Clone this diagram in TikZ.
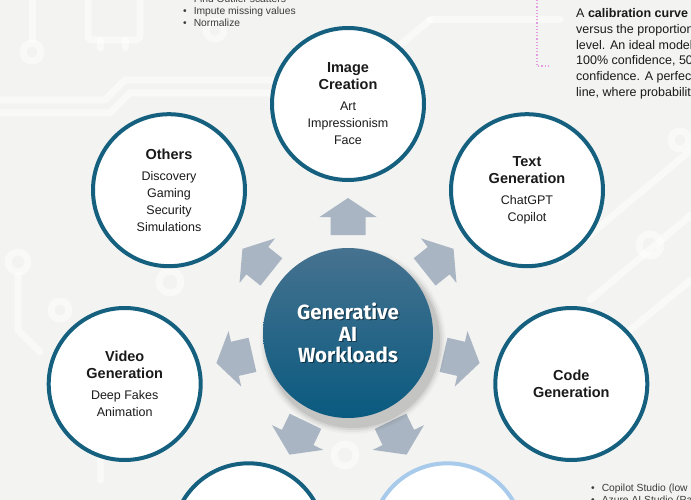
\documentclass[tikz,border=0pt]{standalone}
\usepackage{fontspec}
\setmainfont{Liberation Sans}
\newfontfamily\techfont{Fira Sans}
\definecolor{bgc}{HTML}{F3F3F2}
\definecolor{ringc}{HTML}{15607F}
\definecolor{lightring}{HTML}{A8CAEB}
\definecolor{arrowc}{HTML}{A9B5C2}
\definecolor{ctop}{HTML}{46728F}
\definecolor{cbot}{HTML}{0A5A80}
\definecolor{txtc}{HTML}{1A1A1A}
\definecolor{pinkc}{HTML}{E39CE0}
\newcommand{\ttlfont}{\bfseries\fontsize{14.5}{17}\selectfont}
\newcommand{\itmfont}{\mdseries\fontsize{12.5}{17}\selectfont}
\begin{document}
\begin{tikzpicture}[x=1pt,y=-1pt,
  sat/.style={circle, draw=ringc, line width=4pt, fill=white, minimum size=152pt,
    inner sep=0pt, align=center, text=txtc, font=\fontsize{12.5}{17}\selectfont},
  lightsat/.style={sat, draw=lightring},
  trace/.style={draw=white, line width=7pt, opacity=0.5, line cap=round, line join=round},
  blockarrow/.style={fill=arrowc, draw=none},
  smalltxt/.style={anchor=base west, inner sep=0pt, text=txtc!85, font=\fontsize{10.3}{11}\selectfont},
  bodytxt/.style={anchor=base west, inner sep=0pt, text=txtc, font=\fontsize{12.5}{15}\selectfont}
]
\useasboundingbox (0,0) rectangle (691,500);
\clip (0,0) rectangle (691,500);
\fill[bgc] (0,0) rectangle (691,500);

% faint circuit traces
\draw[trace] (32,0) -- (32,40);
\draw[trace] (32,52) circle (9);
\draw[trace, rounded corners=4] (88,-5) rectangle (140,40);
\draw[trace] (100,40) -- (100,48) (125,40) -- (125,48);
\draw[trace] (0,100) -- (105,100) -- (125,80) -- (330,80);
\draw[trace] (0,113) -- (110,113) -- (130,93) -- (270,93);
\draw[trace] (215,30) circle (9);
\draw[trace] (18,262) circle (10);
\draw[trace] (18,275) -- (18,330) -- (40,352);
\draw[trace] (60,310) circle (9);
\draw[trace] (170,282) circle (11);
\draw[trace] (100,430) -- (100,480);
\draw[trace] (430,20) -- (560,20);
\draw[trace] (400,45) -- (430,20);
\draw[trace] (560,260) -- (691,150);
\draw[trace] (590,300) -- (691,215);
\draw[trace] (630,330) -- (691,280);
\draw[trace] (650,245) circle (11);
\draw[trace] (680,140) circle (9);
\draw[trace] (345,455) circle (11);
\draw[trace] (520,440) -- (560,440);

% top-left list (partially cut)
\node[smalltxt] (tl0) at (183,2.5) {\textbullet\hspace{7pt}Find Outlier scatters};
\node[smalltxt] (tl1) at (183,14.5) {\textbullet\hspace{7pt}Impute missing values};
\node[smalltxt] (tl2) at (183,26.5) {\textbullet\hspace{7pt}Normalize};

% pink dotted bracket
\draw[pinkc, line width=1.2pt, dotted] (537,0) -- (537,66) -- (548,66);

% top-right text
\node[bodytxt] (p1) at (576,17.5) {A \textbf{calibration curve} plots};
\node[bodytxt] (p2) at (576,33.3) {versus the proportion};
\node[bodytxt] (p3) at (576,49.1) {level. An ideal model};
\node[bodytxt] (p4) at (576,64.9) {100\% confidence, 50\%};
\node[bodytxt] (p5) at (576,80.7) {confidence. A perfect};
\node[bodytxt] (p6) at (576,96.5) {line, where probability};

% bottom-right list
\node[smalltxt] (b1) at (591,491.5) {\textbullet\hspace{7pt}Copilot Studio (low code)};
\node[smalltxt] (b2) at (591,503) {\textbullet\hspace{7pt}Azure AI Studio (PaaS)};

% arrows
\foreach \a in {90, 38.57, -12.86, -64.29, -115.71, -167.14, 141.43} {
  \begin{scope}[shift={(348,333)}, rotate=\a]
    \fill[blockarrow] (98,-17.5) -- (116,-17.5) -- (116,-28.5) -- (135,0)
      -- (116,28.5) -- (116,17.5) -- (98,17.5) -- cycle;
  \end{scope}
}

% centre shadow
\foreach \r/\o in {93/0.025, 91/0.04, 89/0.06, 87/0.08} {
  \fill[black, opacity=\o] (353,341) circle (\r);
}
\node[circle, minimum size=170pt, inner sep=0pt, top color=ctop, bottom color=cbot] (center) at (348,333) {};
\node[align=center, text=black, opacity=0.45, font=\techfont\bfseries\fontsize{20.5}{21.5}\selectfont] (cshadow) at (349.2,334.2) {Generative\\AI\\Workloads};
\node[align=center, text=white, font=\techfont\bfseries\fontsize{20.5}{21.5}\selectfont] (ctext) at (348,333) {Generative\\AI\\Workloads};

% satellites
\node[sat] (img) at (348,104) {\ttlfont Image\\\ttlfont Creation\\[4pt]\itmfont Art\\\itmfont Impressionism\\\itmfont Face};
\node[sat] (txt) at (527,190.2) {\ttlfont Text\\\ttlfont Generation\\[4pt]\itmfont ChatGPT\\\itmfont Copilot};
\node[sat] (code) at (571.3,384) {\ttlfont Code\\\ttlfont Generation};
\node[lightsat] (br) at (447.4,539.3) {};
\node[sat] (bl) at (248.6,539.3) {};
\node[sat] (vid) at (124.7,384) {\ttlfont Video\\\ttlfont Generation\\[4pt]\itmfont Deep Fakes\\\itmfont Animation};
\node[sat] (oth) at (169,190.2) {\ttlfont Others\\[4pt]\itmfont Discovery\\\itmfont Gaming\\\itmfont Security\\\itmfont Simulations};
\end{tikzpicture}
\end{document}
